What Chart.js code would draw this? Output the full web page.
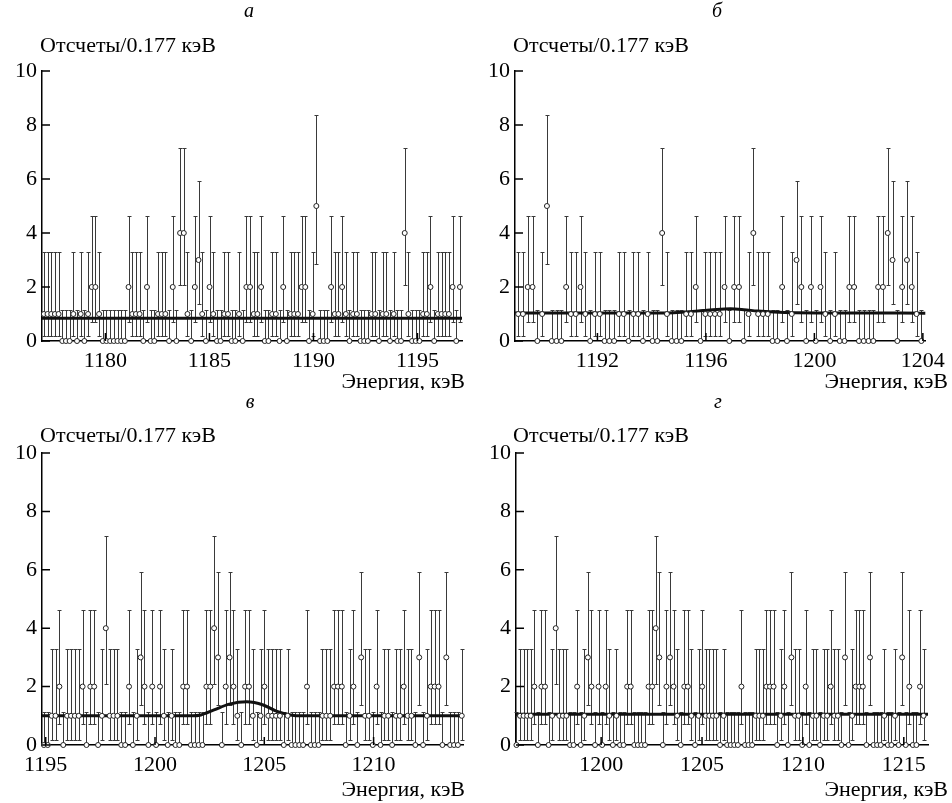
<!DOCTYPE html>
<html>
<head>
<meta charset="utf-8">
<script src="https://cdn.jsdelivr.net/npm/chart.js@4.4.1/dist/chart.umd.min.js"></script>
<style>
  body { margin: 0; background: #fff; }
  #wrap { position: relative; width: 952px; height: 803px; overflow: hidden; }
  canvas { position: absolute; }
</style>
</head>
<body>
<div id="wrap">
  <canvas id="pa" width="476" height="390" style="left:0;top:0"></canvas>
  <canvas id="pb" width="476" height="390" style="left:476px;top:0"></canvas>
  <canvas id="pc" width="476" height="413" style="left:0;top:390px"></canvas>
  <canvas id="pd" width="476" height="413" style="left:476px;top:390px"></canvas>
</div>
<script>
// spectrum: counts per 0.177 keV bin
const binWidth = 0.177;
const firstBinEnergy = 1177.04;
const counts = [
  1,1,1,1,1,0,0,0,1,0,1,0,1,2,2,1,0,0,0,0,0,0,0,2,1,1,1,0,2,0,0,1,1,1,0,2,0,4,
  4,1,0,2,3,1,0,2,1,0,0,1,1,0,0,1,0,2,2,1,1,2,0,0,1,1,0,2,0,1,
  1,1,2,2,0,1,5,0,0,0,2,1,1,2,1,0,1,1,0,0,0,1,1,0,1,1,0,1,0,
  0,4,1,0,0,0,1,1,2,0,1,1,1,1,2,0,2,2,0,1,4,1,1,1,0,0,2,0,1,3,
  2,0,2,0,2,1,0,1,0,0,2,2,0,0,0,0,2,2,4,3,0,2,3,2,1,0,
  2,2,1,0,1,2,1,1,1,1,0,1,0,0,0,0,2,0,0,0,1,1,
  1,2,2,2,0,1,2,0,3,1,1,0,2,0,1,1,0,1,1,2,1,1,0,3,0,1,2,2,2,0,3,0,0,0,1,
  0,0,1,0,3,0,2,0,0,2,1
];
// error bar ends, indexed by count
const errLow  = [0, 0.17, 0.71, 1.37, 2.09, 2.84];
const errHigh = [1.14, 3.30, 4.64, 5.92, 7.16, 8.38];

const yTicks = [0, 2, 4, 6, 8, 10];
const ticksA = [1180, 1185, 1190, 1195];
const ticksB = [1192, 1196, 1200, 1204];
const ticksC = [1195, 1200, 1205, 1210];
const ticksD = [1200, 1205, 1210, 1215];

// fitted curves
const fitAE = [1176.95, 1197.14];
const fitAV = [0.84, 0.84];
const fitBE = [1188.96, 1194.6, 1195.2, 1195.9, 1196.4, 1196.9, 1197.4, 1197.9, 1198.5, 1199.3, 1200.5, 1204.09];
const fitBV = [1.04, 1.04, 1.07, 1.13, 1.17, 1.19, 1.16, 1.11, 1.07, 1.045, 1.04, 1.03];
const fitCE = [1194.83, 1201.7, 1202.1, 1202.7, 1203.4, 1204.2, 1204.95, 1205.55, 1206.2, 1206.7, 1214.09];
const fitCV = [1.0, 1.0, 1.03, 1.2, 1.4, 1.48, 1.37, 1.16, 1.03, 1.0, 1.0];
const fitDE = [1195.78, 1216.2];
const fitDV = [1.05, 1.05];

const serif = 'Liberation Serif';
const yTitle = 'Отсчеты/0.177 кэВ';
const xTitle = 'Энергия, кэВ';

const panels = [
  { id: 'pa', letter: 'а', xMin: 1176.95, xMax: 1197.14, ticks: ticksA, fitE: fitAE, fitV: fitAV,
    area: { l: 42, t: 71, r: 462, b: 341 }, letterPos: [249, 12], ytPos: [40, 46], xtPos: [465, 382] },
  { id: 'pb', letter: 'б', xMin: 1188.96, xMax: 1204.09, ticks: ticksB, fitE: fitBE, fitV: fitBV,
    area: { l: 39, t: 71, r: 452, b: 341 }, letterPos: [241, 12], ytPos: [37, 46], xtPos: [472, 382] },
  { id: 'pc', letter: 'в', xMin: 1194.83, xMax: 1214.09, ticks: ticksC, fitE: fitCE, fitV: fitCV,
    area: { l: 42, t: 63, r: 463, b: 355 }, letterPos: [250, 13], ytPos: [40, 46], xtPos: [465, 400] },
  { id: 'pd', letter: 'г', xMin: 1195.78, xMax: 1216.2, ticks: ticksD, fitE: fitDE, fitV: fitDV,
    area: { l: 40, t: 63, r: 452, b: 355 }, letterPos: [242, 13], ytPos: [37, 46], xtPos: [472, 400] }
];

const errorBars = {
  id: 'errorBars',
  beforeDatasetsDraw(chart) {
    const { ctx, scales: { x, y } } = chart;
    ctx.save();
    ctx.strokeStyle = '#3a3a3a';
    ctx.lineWidth = 1;
    chart.data.datasets[0].data.forEach(p => {
      const px = Math.round(x.getPixelForValue(p.x)) + 0.5;
      const lo = Math.round(y.getPixelForValue(errLow[p.y])) + 0.5;
      const hi = Math.round(y.getPixelForValue(errHigh[p.y])) + 0.5;
      ctx.beginPath();
      ctx.moveTo(px, lo); ctx.lineTo(px, hi);
      ctx.moveTo(px - 2, hi); ctx.lineTo(px + 2, hi);
      if (p.y > 0) { ctx.moveTo(px - 2, lo); ctx.lineTo(px + 2, lo); }
      ctx.stroke();
    });
    ctx.restore();
  }
};

// ticks drawn inward, plus free texts
const decor = {
  id: 'decor',
  afterDraw(chart, args, opts) {
    const { ctx, chartArea: a, scales: { x, y } } = chart;
    const p = opts.panel;
    ctx.save();
    ctx.strokeStyle = '#000';
    ctx.lineWidth = 1.5;
    ctx.beginPath();
    x.ticks.forEach(t => {
      const px = x.getPixelForValue(t.value);
      ctx.moveTo(px, a.bottom); ctx.lineTo(px, a.bottom - 8);
    });
    y.ticks.forEach(t => {
      const py = y.getPixelForValue(t.value);
      ctx.moveTo(a.left, py); ctx.lineTo(a.left + 8, py);
    });
    ctx.stroke();
    ctx.fillStyle = '#000';
    ctx.textBaseline = 'middle';
    ctx.font = 'italic 20px "' + serif + '"';
    ctx.textAlign = 'center';
    ctx.fillText(p.letter, p.letterPos[0], p.letterPos[1]);
    ctx.font = '22px "' + serif + '"';
    ctx.textAlign = 'left';
    ctx.fillText(yTitle, p.ytPos[0], p.ytPos[1]);
    ctx.textAlign = 'right';
    ctx.fillText(xTitle, p.xtPos[0], p.xtPos[1]);
    ctx.restore();
  }
};

panels.forEach(p => {
  const canvas = document.getElementById(p.id);
  const W = canvas.width, H = canvas.height;
  const pts = [];
  counts.forEach((n, i) => {
    const e = firstBinEnergy + i * binWidth;
    if (e >= p.xMin && e <= p.xMax) pts.push({ x: e, y: n });
  });
  const fit = p.fitE.map((e, i) => ({ x: e, y: p.fitV[i] }));
  new Chart(canvas, {
    type: 'scatter',
    data: {
      datasets: [
        { data: pts, pointRadius: 2.5, pointBackgroundColor: '#fff', pointBorderColor: '#222',
          pointBorderWidth: 1, clip: false, order: 1 },
        { type: 'line', data: fit, borderColor: '#111', borderWidth: 3, pointRadius: 0,
          cubicInterpolationMode: 'monotone', clip: false, order: 2 }
      ]
    },
    options: {
      responsive: false, animation: false, devicePixelRatio: 1, events: [],
      layout: { padding: { left: 0, top: p.area.t, right: W - p.area.r, bottom: 0 } },
      plugins: { legend: { display: false }, tooltip: { enabled: false }, decor: { panel: p } },
      scales: {
        x: {
          type: 'linear', min: p.xMin, max: p.xMax,
          afterBuildTicks: s => { s.ticks = p.ticks.map(v => ({ value: v })); },
          afterFit: s => { s.height = H - p.area.b; },
          grid: { display: false, drawTicks: false },
          border: { display: true, color: '#000', width: 1.5 },
          ticks: { font: { family: serif, size: 22 }, color: '#000', padding: 7, maxRotation: 0,
                   autoSkip: false, callback: v => String(v) }
        },
        y: {
          type: 'linear', min: 0, max: 10,
          afterBuildTicks: s => { s.ticks = yTicks.map(v => ({ value: v })); },
          afterFit: s => { s.width = p.area.l; },
          grid: { display: false, drawTicks: false },
          border: { display: true, color: '#000', width: 1.5 },
          ticks: { font: { family: serif, size: 22 }, color: '#000', padding: 5,
                   callback: v => String(v) }
        }
      }
    },
    plugins: [errorBars, decor]
  });
});
</script>
</body>
</html>
